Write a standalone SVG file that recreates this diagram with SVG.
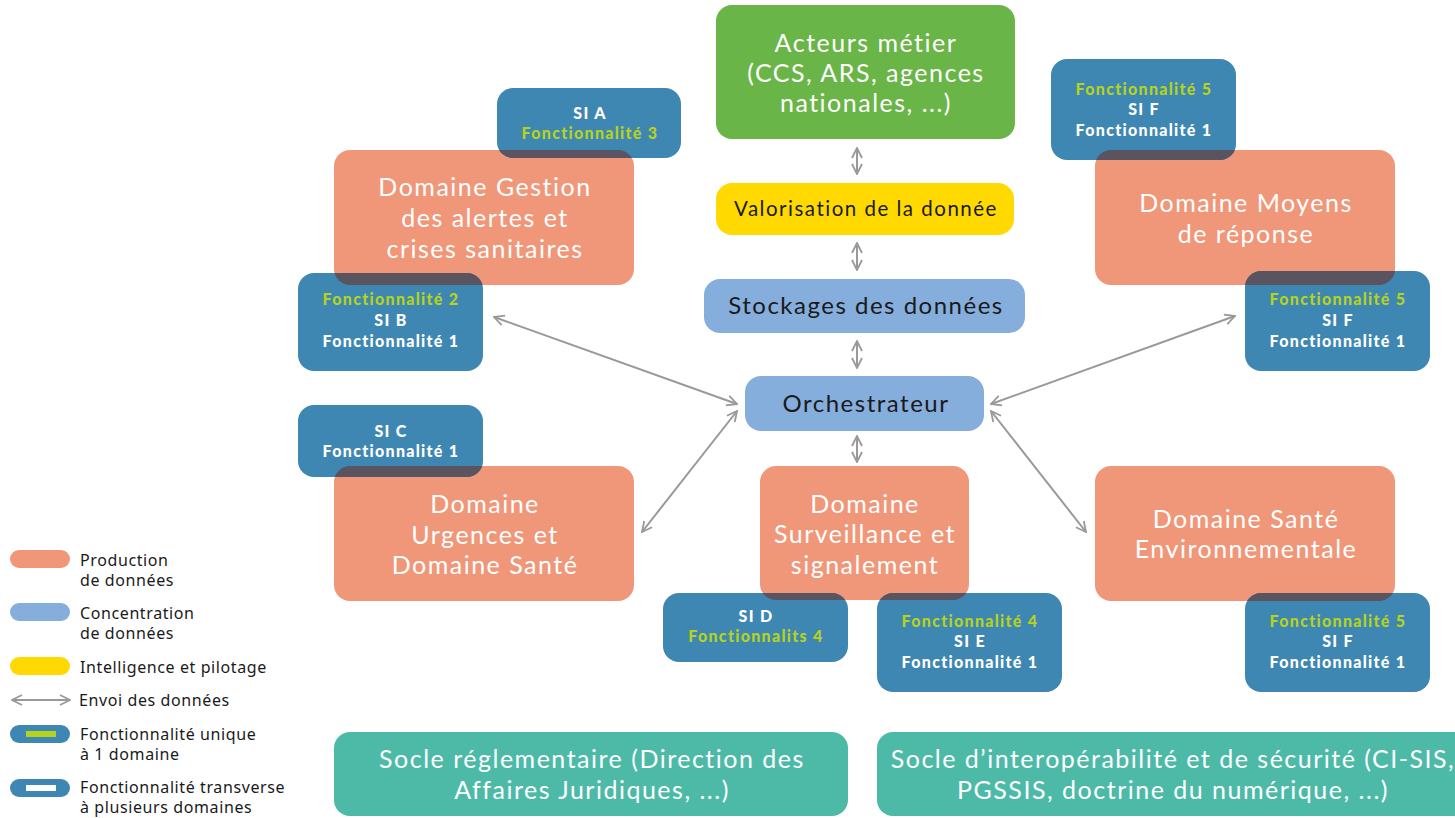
<svg xmlns="http://www.w3.org/2000/svg" width="1455" height="818" viewBox="0 0 1455 818">
<style>
.prod{fill:#f0977a}
.conc{fill:#85aedd}
.intel{fill:#ffd900}
.green{fill:#6ab547}
.teal{fill:#4dbaa8}
.si{fill:#3f87b3}
.ov{fill:#5a5360}
.t{font-family:Lato,"Noto Sans",sans-serif;text-anchor:middle;letter-spacing:1.5px}
.tw{fill:#ffffff;font-size:25px}
.tk{fill:#1a1a1a}
.sb{font-family:Lato,"Noto Sans",sans-serif;font-weight:900;font-size:16px;letter-spacing:1.3px;text-anchor:middle;fill:#ffffff}
.sg{fill:#b5d21e}
.lg{font-family:"Noto Sans","DejaVu Sans",sans-serif;font-size:16px;letter-spacing:0.6px;fill:#1a1a1a}
.arr{stroke:#999999;stroke-width:2;fill:none;marker-start:url(#ah);marker-end:url(#ah)}
</style>
<defs>
<marker id="ah" viewBox="0 0 12 12" refX="11" refY="6" markerWidth="12" markerHeight="12" markerUnits="userSpaceOnUse" orient="auto-start-reverse">
<path d="M1,1 L11,6 L1,11" fill="none" stroke="#999999" stroke-width="1.8"/>
</marker>
<clipPath id="cA"><rect x="497" y="88" width="184" height="70" rx="16"/></clipPath>
<clipPath id="cB"><rect x="298" y="273" width="185" height="98" rx="16"/></clipPath>
<clipPath id="cC"><rect x="298" y="405" width="185" height="72" rx="16"/></clipPath>
<clipPath id="cD"><rect x="663" y="593" width="185" height="69" rx="16"/></clipPath>
<clipPath id="cE"><rect x="877" y="593" width="185" height="99" rx="16"/></clipPath>
<clipPath id="cF1"><rect x="1051" y="59" width="185" height="101" rx="16"/></clipPath>
<clipPath id="cF2"><rect x="1245" y="271" width="185" height="100" rx="16"/></clipPath>
<clipPath id="cF3"><rect x="1245" y="593" width="185" height="99" rx="16"/></clipPath>
</defs>
<rect width="1455" height="818" fill="#ffffff"/>

<g id="connectors">
<line class="arr" x1="857" y1="148" x2="857" y2="174"/>
<line class="arr" x1="857" y1="243" x2="857" y2="270"/>
<line class="arr" x1="857" y1="341" x2="857" y2="368"/>
<line class="arr" x1="857" y1="436" x2="857" y2="462"/>
<line class="arr" x1="494" y1="317" x2="737" y2="404"/>
<line class="arr" x1="642" y1="532" x2="737" y2="411"/>
<line class="arr" x1="1235" y1="316" x2="991" y2="404"/>
<line class="arr" x1="991" y1="411" x2="1086" y2="532"/>
</g>

<g id="acteurs">
<rect class="green" x="716" y="5" width="299" height="134" rx="16"/>
<text class="t tw"><tspan x="866" y="52">Acteurs métier</tspan><tspan x="866" y="82">(CCS, ARS, agences</tspan><tspan x="866" y="112">nationales, ...)</tspan></text>
</g>
<g id="valorisation">
<rect class="intel" x="716" y="183" width="298" height="52" rx="16"/>
<text class="t tk" x="866" y="216" font-size="20.5" letter-spacing="1.2">Valorisation de la donnée</text>
</g>
<g id="stockages">
<rect class="conc" x="704" y="279" width="321" height="54" rx="16"/>
<text class="t tk" x="866" y="314" font-size="24">Stockages des données</text>
</g>
<g id="orchestrateur">
<rect class="conc" x="745" y="376" width="239" height="55" rx="16"/>
<text class="t tk" x="866" y="412" font-size="24">Orchestrateur</text>
</g>

<g id="domaine-gestion">
<rect class="prod" x="334" y="150" width="300" height="135" rx="16"/>
<text class="t tw"><tspan x="485" y="196">Domaine Gestion</tspan><tspan x="485" y="227">des alertes et</tspan><tspan x="485" y="258">crises sanitaires</tspan></text>
</g>
<g id="domaine-moyens">
<rect class="prod" x="1095" y="150" width="300" height="135" rx="16"/>
<text class="t tw"><tspan x="1246" y="212">Domaine Moyens</tspan><tspan x="1246" y="243">de réponse</tspan></text>
</g>
<g id="domaine-urgences">
<rect class="prod" x="334" y="466" width="300" height="135" rx="16"/>
<text class="t tw"><tspan x="485" y="513">Domaine</tspan><tspan x="485" y="544">Urgences et</tspan><tspan x="485" y="574">Domaine Santé</tspan></text>
</g>
<g id="domaine-surveillance">
<rect class="prod" x="760" y="466" width="209" height="134" rx="16"/>
<text class="t tw"><tspan x="865" y="513">Domaine</tspan><tspan x="865" y="543">Surveillance et</tspan><tspan x="865" y="574">signalement</tspan></text>
</g>
<g id="domaine-sante-env">
<rect class="prod" x="1095" y="466" width="300" height="135" rx="16"/>
<text class="t tw"><tspan x="1246" y="528">Domaine Santé</tspan><tspan x="1246" y="558">Environnementale</tspan></text>
</g>

<g id="si-a">
<rect class="si" x="497" y="88" width="184" height="70" rx="16"/>
<rect class="ov" x="334" y="150" width="300" height="135" rx="16" clip-path="url(#cA)"/>
<text class="sb"><tspan x="590" y="119">SI A</tspan><tspan class="sg" x="590" y="139">Fonctionnalité 3</tspan></text>
</g>
<g id="si-b">
<rect class="si" x="298" y="273" width="185" height="98" rx="16"/>
<rect class="ov" x="334" y="150" width="300" height="135" rx="16" clip-path="url(#cB)"/>
<text class="sb"><tspan class="sg" x="391" y="305">Fonctionnalité 2</tspan><tspan x="391" y="326">SI B</tspan><tspan x="391" y="347">Fonctionnalité 1</tspan></text>
</g>
<g id="si-c">
<rect class="si" x="298" y="405" width="185" height="72" rx="16"/>
<rect class="ov" x="334" y="466" width="300" height="135" rx="16" clip-path="url(#cC)"/>
<text class="sb"><tspan x="391" y="437">SI C</tspan><tspan x="391" y="457">Fonctionnalité 1</tspan></text>
</g>
<g id="si-d">
<rect class="si" x="663" y="593" width="185" height="69" rx="16"/>
<rect class="ov" x="760" y="466" width="209" height="134" rx="16" clip-path="url(#cD)"/>
<text class="sb"><tspan x="756" y="622">SI D</tspan><tspan class="sg" x="756" y="642">Fonctionnalits 4</tspan></text>
</g>
<g id="si-e">
<rect class="si" x="877" y="593" width="185" height="99" rx="16"/>
<rect class="ov" x="760" y="466" width="209" height="134" rx="16" clip-path="url(#cE)"/>
<text class="sb"><tspan class="sg" x="970" y="627">Fonctionnalité 4</tspan><tspan x="970" y="647">SI E</tspan><tspan x="970" y="668">Fonctionnalité 1</tspan></text>
</g>
<g id="si-f-top">
<rect class="si" x="1051" y="59" width="185" height="101" rx="16"/>
<rect class="ov" x="1095" y="150" width="300" height="135" rx="16" clip-path="url(#cF1)"/>
<text class="sb"><tspan class="sg" x="1144" y="95">Fonctionnalité 5</tspan><tspan x="1144" y="115">SI F</tspan><tspan x="1144" y="136">Fonctionnalité 1</tspan></text>
</g>
<g id="si-f-mid">
<rect class="si" x="1245" y="271" width="185" height="100" rx="16"/>
<rect class="ov" x="1095" y="150" width="300" height="135" rx="16" clip-path="url(#cF2)"/>
<text class="sb"><tspan class="sg" x="1338" y="305">Fonctionnalité 5</tspan><tspan x="1338" y="326">SI F</tspan><tspan x="1338" y="347">Fonctionnalité 1</tspan></text>
</g>
<g id="si-f-bottom">
<rect class="si" x="1245" y="593" width="185" height="99" rx="16"/>
<rect class="ov" x="1095" y="466" width="300" height="135" rx="16" clip-path="url(#cF3)"/>
<text class="sb"><tspan class="sg" x="1338" y="627">Fonctionnalité 5</tspan><tspan x="1338" y="647">SI F</tspan><tspan x="1338" y="668">Fonctionnalité 1</tspan></text>
</g>

<g id="socle-reglementaire">
<rect class="teal" x="334" y="732" width="514" height="84" rx="16"/>
<text class="t tw"><tspan x="592" y="768">Socle réglementaire (Direction des</tspan><tspan x="592" y="799">Affaires Juridiques, ...)</tspan></text>
</g>
<g id="socle-interop">
<rect class="teal" x="877" y="732" width="600" height="84" rx="16"/>
<text class="t tw"><tspan x="1173" y="768">Socle d’interopérabilité et de sécurité (CI-SIS,</tspan><tspan x="1173" y="799">PGSSIS, doctrine du numérique, ...)</tspan></text>
</g>

<g id="legend">
<rect class="prod" x="10" y="550" width="60" height="18" rx="9"/>
<text class="lg"><tspan x="80" y="566">Production</tspan><tspan x="80" y="586">de données</tspan></text>
<rect class="conc" x="10" y="603" width="60" height="18" rx="9"/>
<text class="lg"><tspan x="80" y="619">Concentration</tspan><tspan x="80" y="639">de données</tspan></text>
<rect class="intel" x="10" y="657" width="60" height="18" rx="9"/>
<text class="lg" x="80" y="673">Intelligence et pilotage</text>
<line class="arr" x1="12" y1="700" x2="70" y2="700"/>
<text class="lg" x="79" y="706">Envoi des données</text>
<rect class="si" x="10" y="725" width="60" height="18" rx="9"/>
<rect fill="#b5d21e" x="26" y="731" width="30" height="6"/>
<text class="lg"><tspan x="80" y="740">Fonctionnalité unique</tspan><tspan x="80" y="760">à 1 domaine</tspan></text>
<rect class="si" x="10" y="779" width="60" height="18" rx="9"/>
<rect fill="#ffffff" x="26" y="785" width="30" height="6"/>
<text class="lg"><tspan x="80" y="793">Fonctionnalité transverse</tspan><tspan x="80" y="813">à plusieurs domaines</tspan></text>
</g>
</svg>
